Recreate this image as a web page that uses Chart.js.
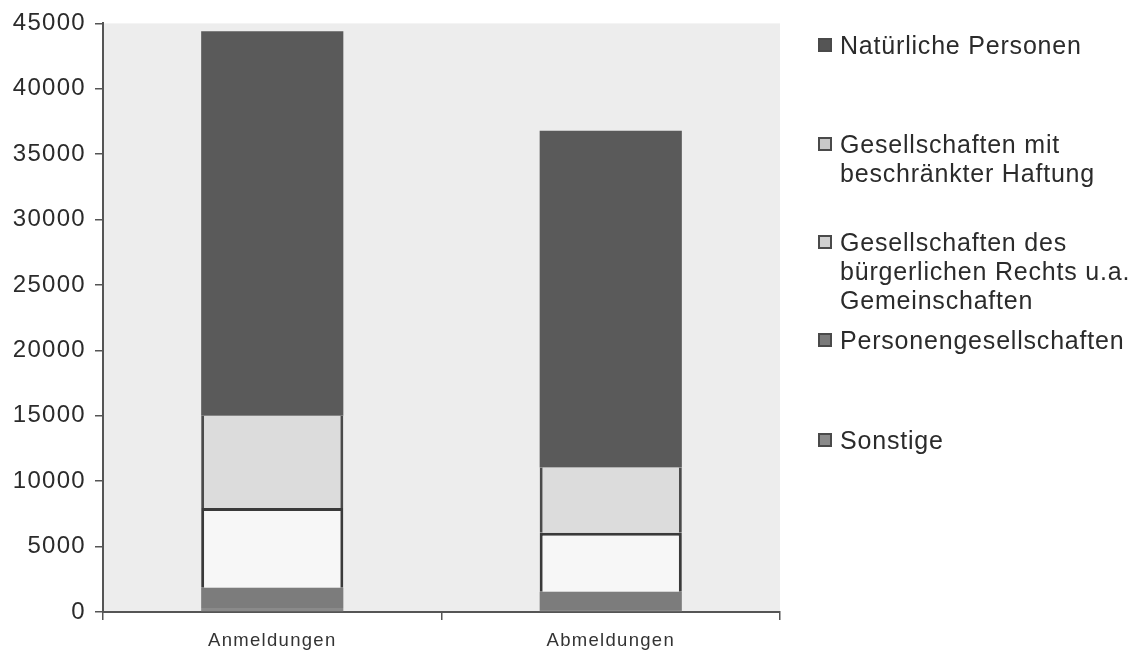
<!DOCTYPE html>
<html>
<head>
<meta charset="utf-8">
<script src="https://cdn.jsdelivr.net/npm/chart.js@4/dist/chart.umd.min.js"></script>
<style>
  html, body { margin: 0; padding: 0; background: #fff; }
  #wrap { position: relative; width: 1136px; height: 657px; }
  #legend { position: absolute; left: 818px; top: 0; font-family: "Liberation Sans", Arial, sans-serif; font-size: 25px; letter-spacing: 0.8px; color: #2b2b2b; }
  .item { position: absolute; left: 0; width: 320px; line-height: 29px; white-space: nowrap; }
  .box { position: absolute; left: 0; top: 7px; width: 14px; height: 14px; box-sizing: border-box; border: 2px solid #4a4a4a; }
  .txt { margin-left: 22px; }
</style>
</head>
<body>
<div id="wrap">
  <canvas id="chart" width="1136" height="657"></canvas>
  <div id="legend"></div>
</div>
<script>
// categories and values, stacked bottom to top
const categories = ['Anmeldungen', 'Abmeldungen'];
const sonstige = [300, 150];
const personengesellschaften = [1550, 1400];
const gbr = [6100, 4500];
const gmbh = [7050, 5000];
const natuerlichePersonen = [29400, 25750];
const yTicks = [0, 5000, 10000, 15000, 20000, 25000, 30000, 35000, 40000, 45000];

// legend order as in the picture (top to bottom)
const legendLabels = [
  ['Natürliche Personen'],
  ['Gesellschaften mit', 'beschränkter Haftung'],
  ['Gesellschaften des', 'bürgerlichen Rechts u.a.', 'Gemeinschaften'],
  ['Personengesellschaften'],
  ['Sonstige']
];
const legendTop = [31, 130, 228, 326, 426];
const legendBox = ['#555555', '#c8c8c8', '#d0d0d0', '#7a7a7a', '#8a8a8a'];

const datasets = [
  { label: 'Sonstige', data: sonstige, backgroundColor: '#8a8a8a', borderColor: '#777', borderWidth: 0 },
  { label: 'Personengesellschaften', data: personengesellschaften, backgroundColor: '#7c7c7c', borderColor: '#555', borderWidth: 0 },
  { label: 'Gesellschaften des bürgerlichen Rechts u.a. Gemeinschaften', data: gbr, backgroundColor: '#f7f7f7', borderColor: '#3a3a3a', borderWidth: { left: 3, right: 3, top: 3, bottom: 0 } },
  { label: 'Gesellschaften mit beschränkter Haftung', data: gmbh, backgroundColor: '#dcdcdc', borderColor: '#4a4a4a', borderWidth: { left: 3, right: 3, top: 0, bottom: 0 } },
  { label: 'Natürliche Personen', data: natuerlichePersonen, backgroundColor: '#5a5a5a', borderColor: '#5a5a5a', borderWidth: 0 }
];
datasets.forEach(d => { d.borderSkipped = false; d.categoryPercentage = 1; d.barPercentage = 0.42; });

const plotBg = {
  id: 'plotBg',
  beforeDraw(chart) {
    const { ctx, chartArea: a } = chart;
    ctx.save();
    ctx.fillStyle = '#ededed';
    ctx.fillRect(a.left, a.top, a.right - a.left, a.bottom - a.top);
    ctx.restore();
  }
};

// the scanned axis labels are a bit wider than Arial
const wideText = {
  id: 'wideText',
  beforeDraw(chart) { chart.ctx.letterSpacing = '1.3px'; },
  afterDraw(chart) { chart.ctx.letterSpacing = '0px'; }
};

const chart = new Chart(document.getElementById('chart'), {
  type: 'bar',
  data: { labels: categories, datasets: datasets },
  plugins: [plotBg, wideText],
  options: {
    responsive: false,
    animation: false,
    layout: { padding: { top: 22, right: 356, left: 0, bottom: 0 } },
    plugins: { legend: { display: false }, tooltip: { enabled: false } },
    scales: {
      x: {
        stacked: true,
        afterFit(s) { s.height = 45; },
        border: { color: '#555', width: 2 },
        grid: { display: true, drawOnChartArea: false, tickLength: 8, color: '#555', lineWidth: 1.5 },
        ticks: { color: '#333', font: { family: 'Liberation Sans', size: 18.5 }, padding: 10 }
      },
      y: {
        stacked: true,
        min: 0, max: 45000,
        afterBuildTicks(s) { s.ticks = yTicks.map(v => ({ value: v })); },
        afterFit(s) { s.width = 103; },
        border: { color: '#555', width: 2 },
        grid: { display: true, drawOnChartArea: false, tickLength: 8, color: '#555', lineWidth: 1.5 },
        ticks: { color: '#2b2b2b', font: { family: 'Liberation Sans', size: 24 }, padding: 9, callback: v => String(v) }
      }
    }
  }
});

// legend built next to the chart
const legendEl = document.getElementById('legend');
legendLabels.forEach((lines, i) => {
  const item = document.createElement('div');
  item.className = 'item';
  item.style.top = legendTop[i] + 'px';
  const box = document.createElement('div');
  box.className = 'box';
  box.style.background = legendBox[i];
  const txt = document.createElement('div');
  txt.className = 'txt';
  txt.innerHTML = lines.join('<br>');
  item.appendChild(box);
  item.appendChild(txt);
  legendEl.appendChild(item);
});
</script>
</body>
</html>
